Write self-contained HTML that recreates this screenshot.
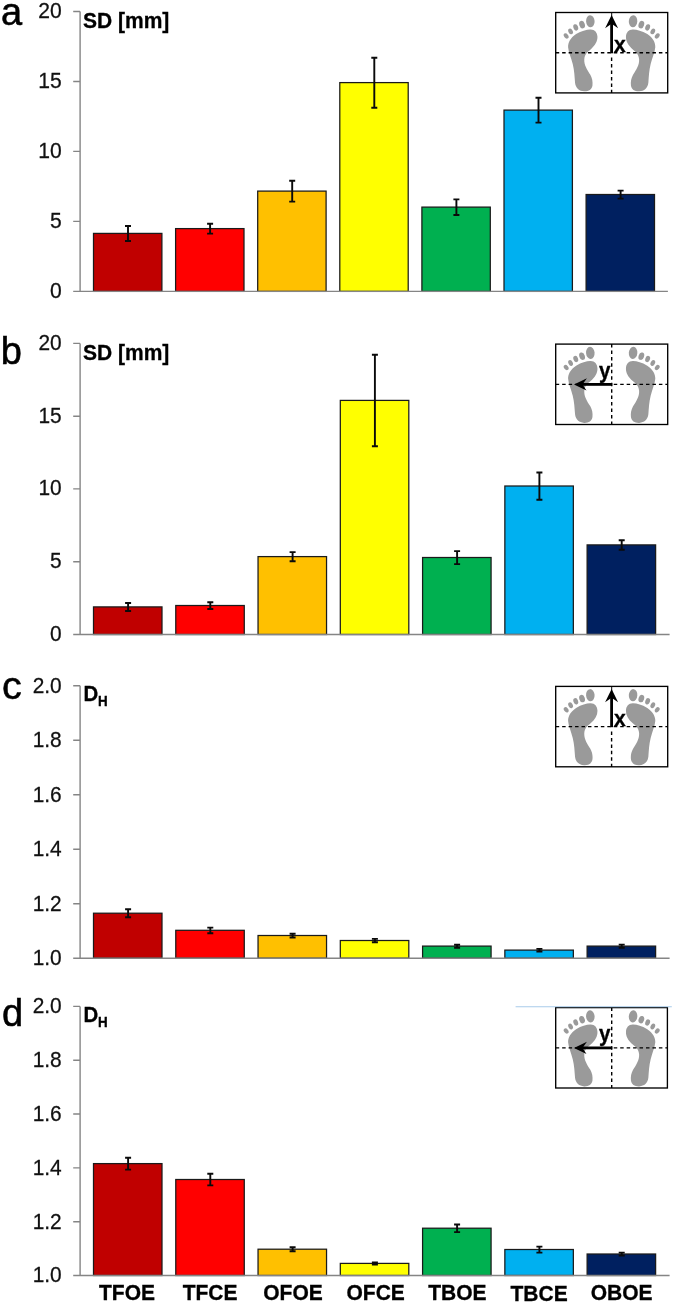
<!DOCTYPE html>
<html><head><meta charset="utf-8"><title>Figure</title>
<style>
html,body{margin:0;padding:0;background:#fff;}
body{width:675px;height:1304px;overflow:hidden;}
svg{display:block;will-change:transform;font-family:"Liberation Sans",sans-serif;}
.t{font-size:20.9px;fill:#111;text-anchor:end;stroke:#111;stroke-width:0.25px;}
.b{font-size:21px;font-weight:bold;fill:#000;stroke:#000;stroke-width:0.3px;}
.l{font-size:38px;fill:#000;stroke:#000;stroke-width:0.55px;}
.c{font-size:21px;font-weight:bold;fill:#000;text-anchor:middle;stroke:#000;stroke-width:0.3px;}
.ax{stroke:#858585;stroke-width:1.4;fill:none;}
.bar{stroke:#1a1a1a;stroke-width:1.25;}
.e{stroke:#0a0a0a;stroke-width:1.9;fill:none;}
.ft{fill:#9a9a9a;}
</style></head><body>
<svg width="675" height="1304" viewBox="0 0 675 1304">
<rect width="675" height="1304" fill="#fff"/>
<!-- panel a -->
<rect class="bar" x="93.50" y="233.4" width="68.4" height="58.0" fill="#C00000"/>
<rect class="bar" x="175.60" y="228.6" width="68.4" height="62.8" fill="#FF0000"/>
<rect class="bar" x="257.70" y="191.1" width="68.4" height="100.3" fill="#FFC000"/>
<rect class="bar" x="339.80" y="82.6" width="68.4" height="208.8" fill="#FFFF00"/>
<rect class="bar" x="421.90" y="207.1" width="68.4" height="84.3" fill="#00B050"/>
<rect class="bar" x="504.00" y="110.1" width="68.4" height="181.3" fill="#00B0F0"/>
<rect class="bar" x="586.10" y="194.5" width="68.4" height="96.9" fill="#002060"/>
<path class="ax" d="M80.1 11.5 V291.4 M73.2 291.4 H667.9 M73.2 221.4 H80.1 M73.2 151.4 H80.1 M73.2 81.5 H80.1 M73.2 11.5 H80.1"/>
<path class="e" d="M128.0 226.0 V241.0 M125.0 226.0 H131.0 M125.0 241.0 H131.0"/>
<path class="e" d="M210.1 223.8 V233.6 M207.1 223.8 H213.1 M207.1 233.6 H213.1"/>
<path class="e" d="M292.2 180.8 V201.6 M289.2 180.8 H295.2 M289.2 201.6 H295.2"/>
<path class="e" d="M374.3 57.7 V107.7 M371.3 57.7 H377.3 M371.3 107.7 H377.3"/>
<path class="e" d="M456.4 199.4 V215.0 M453.4 199.4 H459.4 M453.4 215.0 H459.4"/>
<path class="e" d="M538.5 97.8 V122.6 M535.5 97.8 H541.5 M535.5 122.6 H541.5"/>
<path class="e" d="M620.6 190.6 V198.6 M617.6 190.6 H623.6 M617.6 198.6 H623.6"/>
<text class="t" transform="translate(61.7 297.8) scale(1 1.065)" style="font-size:21.1px">0</text>
<text class="t" transform="translate(61.7 227.8) scale(1 1.065)" style="font-size:21.1px">5</text>
<text class="t" transform="translate(61.7 157.8) scale(1 1.065)" style="font-size:21.1px">10</text>
<text class="t" transform="translate(61.7 87.9) scale(1 1.065)" style="font-size:21.1px">15</text>
<text class="t" transform="translate(61.7 17.9) scale(1 1.065)" style="font-size:21.1px">20</text>
<text class="l" transform="translate(1.1 24.6) scale(1 1.020)" style="font-size:38px">a</text>
<text class="b" transform="translate(83.0 27.6) scale(1 1.075)">SD [mm]</text>
<g transform="translate(0 12.4)">
<g class="ft" transform="translate(553 -4.3) scale(0.08889)"><path d="M420 240 C470 238 498 275 500 320 C502 370 478 418 420 468 C385 495 358 520 352 575 C348 640 385 695 420 750 C442 790 448 830 444 870 C438 915 400 938 350 936 C295 934 255 900 248 840 C242 770 240 700 222 630 C205 560 175 500 170 440 C168 390 195 335 260 292 C320 255 375 242 420 240 Z"/>
<ellipse cx="420" cy="148" rx="48" ry="68" transform="rotate(-4 420 148)"/>
<ellipse cx="327" cy="186" rx="31" ry="43" transform="rotate(-18 327 186)"/>
<ellipse cx="256" cy="217" rx="26" ry="37" transform="rotate(-20 256 217)"/>
<ellipse cx="198" cy="262" rx="24" ry="34" transform="rotate(-28 198 262)"/>
<ellipse cx="148" cy="313" rx="23" ry="33" transform="rotate(-38 148 313)"/></g>
<g class="ft" transform="translate(670.4 -4.3) scale(-0.08889 0.08889)"><path d="M420 240 C470 238 498 275 500 320 C502 370 478 418 420 468 C385 495 358 520 352 575 C348 640 385 695 420 750 C442 790 448 830 444 870 C438 915 400 938 350 936 C295 934 255 900 248 840 C242 770 240 700 222 630 C205 560 175 500 170 440 C168 390 195 335 260 292 C320 255 375 242 420 240 Z"/>
<ellipse cx="420" cy="148" rx="48" ry="68" transform="rotate(-4 420 148)"/>
<ellipse cx="327" cy="186" rx="31" ry="43" transform="rotate(-18 327 186)"/>
<ellipse cx="256" cy="217" rx="26" ry="37" transform="rotate(-20 256 217)"/>
<ellipse cx="198" cy="262" rx="24" ry="34" transform="rotate(-28 198 262)"/>
<ellipse cx="148" cy="313" rx="23" ry="33" transform="rotate(-38 148 313)"/></g>
<rect x="555.7" y="0.1" width="112.0" height="80.4" fill="none" stroke="#000" stroke-width="1.35"/>
<path d="M555.7 40.3 H667.6" stroke="#000" stroke-width="1.35" stroke-dasharray="3.5 2.95" fill="none"/>
<path d="M611.6 45.2 V80.6" stroke="#000" stroke-width="1.4" stroke-dasharray="3.5 2.95" fill="none"/>
<path d="M611.7 0 V6" stroke="#000" stroke-width="1" fill="none"/>
<path d="M611.6 40.9 V10" stroke="#000" stroke-width="2.8" fill="none"/>
<path d="M611.6 2.6 L618.1 15.9 L611.6 11.4 L605.1 15.9 Z" fill="#000"/>
<text class="b" transform="translate(613.9 39.4) scale(1 1.040)" style="font-size:21.2px">x</text>
</g>
<!-- panel b -->
<rect class="bar" x="93.50" y="606.9" width="68.5" height="27.6" fill="#C00000"/>
<rect class="bar" x="175.77" y="605.5" width="68.5" height="29.0" fill="#FF0000"/>
<rect class="bar" x="258.04" y="556.6" width="68.5" height="77.9" fill="#FFC000"/>
<rect class="bar" x="340.31" y="400.4" width="68.5" height="234.1" fill="#FFFF00"/>
<rect class="bar" x="422.58" y="557.5" width="68.5" height="77.0" fill="#00B050"/>
<rect class="bar" x="504.85" y="486.0" width="68.5" height="148.5" fill="#00B0F0"/>
<rect class="bar" x="587.12" y="544.9" width="68.5" height="89.6" fill="#002060"/>
<path class="ax" d="M80.1 343.4 V634.5 M73.2 634.5 H669.6 M73.2 561.7 H80.1 M73.2 488.9 H80.1 M73.2 416.2 H80.1 M73.2 343.4 H80.1"/>
<path class="e" d="M128.1 603.0 V611.0 M125.1 603.0 H131.1 M125.1 611.0 H131.1"/>
<path class="e" d="M210.3 602.2 V609.0 M207.3 602.2 H213.3 M207.3 609.0 H213.3"/>
<path class="e" d="M292.6 552.1 V561.3 M289.6 552.1 H295.6 M289.6 561.3 H295.6"/>
<path class="e" d="M374.9 354.7 V446.3 M371.9 354.7 H377.9 M371.9 446.3 H377.9"/>
<path class="e" d="M457.1 551.1 V564.1 M454.1 551.1 H460.1 M454.1 564.1 H460.1"/>
<path class="e" d="M539.4 472.5 V499.7 M536.4 472.5 H542.4 M536.4 499.7 H542.4"/>
<path class="e" d="M621.7 540.2 V549.8 M618.7 540.2 H624.7 M618.7 549.8 H624.7"/>
<text class="t" transform="translate(61.7 640.8) scale(1 1.075)" style="font-size:20.9px">0</text>
<text class="t" transform="translate(61.7 568.0) scale(1 1.075)" style="font-size:20.9px">5</text>
<text class="t" transform="translate(61.7 495.2) scale(1 1.075)" style="font-size:20.9px">10</text>
<text class="t" transform="translate(61.7 422.5) scale(1 1.075)" style="font-size:20.9px">15</text>
<text class="t" transform="translate(61.7 349.7) scale(1 1.075)" style="font-size:20.9px">20</text>
<text class="l" transform="translate(0.7 364.0) scale(1 1.020)" style="font-size:38px">b</text>
<text class="b" transform="translate(83.0 359.5) scale(1 1.075)">SD [mm]</text>
<g transform="translate(0 344.0)">
<g class="ft" transform="translate(553 -4.3) scale(0.08889)"><path d="M420 240 C470 238 498 275 500 320 C502 370 478 418 420 468 C385 495 358 520 352 575 C348 640 385 695 420 750 C442 790 448 830 444 870 C438 915 400 938 350 936 C295 934 255 900 248 840 C242 770 240 700 222 630 C205 560 175 500 170 440 C168 390 195 335 260 292 C320 255 375 242 420 240 Z"/>
<ellipse cx="420" cy="148" rx="48" ry="68" transform="rotate(-4 420 148)"/>
<ellipse cx="327" cy="186" rx="31" ry="43" transform="rotate(-18 327 186)"/>
<ellipse cx="256" cy="217" rx="26" ry="37" transform="rotate(-20 256 217)"/>
<ellipse cx="198" cy="262" rx="24" ry="34" transform="rotate(-28 198 262)"/>
<ellipse cx="148" cy="313" rx="23" ry="33" transform="rotate(-38 148 313)"/></g>
<g class="ft" transform="translate(670.4 -4.3) scale(-0.08889 0.08889)"><path d="M420 240 C470 238 498 275 500 320 C502 370 478 418 420 468 C385 495 358 520 352 575 C348 640 385 695 420 750 C442 790 448 830 444 870 C438 915 400 938 350 936 C295 934 255 900 248 840 C242 770 240 700 222 630 C205 560 175 500 170 440 C168 390 195 335 260 292 C320 255 375 242 420 240 Z"/>
<ellipse cx="420" cy="148" rx="48" ry="68" transform="rotate(-4 420 148)"/>
<ellipse cx="327" cy="186" rx="31" ry="43" transform="rotate(-18 327 186)"/>
<ellipse cx="256" cy="217" rx="26" ry="37" transform="rotate(-20 256 217)"/>
<ellipse cx="198" cy="262" rx="24" ry="34" transform="rotate(-28 198 262)"/>
<ellipse cx="148" cy="313" rx="23" ry="33" transform="rotate(-38 148 313)"/></g>
<rect x="555.7" y="0.1" width="112.0" height="80.4" fill="none" stroke="#000" stroke-width="1.35"/>
<path d="M555.7 40.3 H667.6" stroke="#000" stroke-width="1.35" stroke-dasharray="3.5 2.95" fill="none"/>
<path d="M611.7 0 V80.6" stroke="#000" stroke-width="1.4" stroke-dasharray="3.5 2.95" fill="none"/>
<path d="M612.2 40.4 H581" stroke="#000" stroke-width="2.8" fill="none"/>
<path d="M574.0 40.4 L586.9 34.3 L582.5 40.4 L586.5 46.6 Z" fill="#000"/>
<text class="b" transform="translate(599.0 33.7) scale(1 1.040)" style="font-size:20.6px">y</text>
</g>
<!-- panel c -->
<rect class="bar" x="93.50" y="913.2" width="68.5" height="45.0" fill="#C00000"/>
<rect class="bar" x="175.77" y="930.3" width="68.5" height="27.9" fill="#FF0000"/>
<rect class="bar" x="258.04" y="935.5" width="68.5" height="22.7" fill="#FFC000"/>
<rect class="bar" x="340.31" y="940.5" width="68.5" height="17.7" fill="#FFFF00"/>
<rect class="bar" x="422.58" y="946.1" width="68.5" height="12.1" fill="#00B050"/>
<rect class="bar" x="504.85" y="950.1" width="68.5" height="8.1" fill="#00B0F0"/>
<rect class="bar" x="587.12" y="946.1" width="68.5" height="12.1" fill="#002060"/>
<path class="ax" d="M80.1 685.7 V958.2 M73.2 958.2 H669.6 M73.2 903.7 H80.1 M73.2 849.2 H80.1 M73.2 794.7 H80.1 M73.2 740.2 H80.1 M73.2 685.7 H80.1"/>
<path class="e" d="M128.1 909.3 V917.3 M125.1 909.3 H131.1 M125.1 917.3 H131.1"/>
<path class="e" d="M210.3 927.6 V933.2 M207.3 927.6 H213.3 M207.3 933.2 H213.3"/>
<path class="e" d="M292.6 933.7 V937.5 M289.6 933.7 H295.6 M289.6 937.5 H295.6"/>
<path class="e" d="M374.9 938.9 V942.3 M371.9 938.9 H377.9 M371.9 942.3 H377.9"/>
<path class="e" d="M457.1 944.7 V947.7 M454.1 944.7 H460.1 M454.1 947.7 H460.1"/>
<path class="e" d="M539.4 948.9 V951.5 M536.4 948.9 H542.4 M536.4 951.5 H542.4"/>
<path class="e" d="M621.7 944.6 V947.8 M618.7 944.6 H624.7 M618.7 947.8 H624.7"/>
<text class="t" transform="translate(61.7 965.0) scale(1 1.055)" style="font-size:20.9px">1.0</text>
<text class="t" transform="translate(61.7 910.5) scale(1 1.055)" style="font-size:20.9px">1.2</text>
<text class="t" transform="translate(61.7 856.0) scale(1 1.055)" style="font-size:20.9px">1.4</text>
<text class="t" transform="translate(61.7 801.5) scale(1 1.055)" style="font-size:20.9px">1.6</text>
<text class="t" transform="translate(61.7 747.0) scale(1 1.055)" style="font-size:20.9px">1.8</text>
<text class="t" transform="translate(61.7 692.5) scale(1 1.055)" style="font-size:20.9px">2.0</text>
<text class="l" transform="translate(2.1 699.4) scale(1 1.000)" style="font-size:39.5px">c</text>
<text class="b" transform="translate(83.4 701.1) scale(1 1.075)" style="font-size:20.4px">D<tspan style="font-size:13.4px" dy="4.7">H</tspan></text>
<g transform="translate(0 686.3)">
<g class="ft" transform="translate(553 -4.3) scale(0.08889)"><path d="M420 240 C470 238 498 275 500 320 C502 370 478 418 420 468 C385 495 358 520 352 575 C348 640 385 695 420 750 C442 790 448 830 444 870 C438 915 400 938 350 936 C295 934 255 900 248 840 C242 770 240 700 222 630 C205 560 175 500 170 440 C168 390 195 335 260 292 C320 255 375 242 420 240 Z"/>
<ellipse cx="420" cy="148" rx="48" ry="68" transform="rotate(-4 420 148)"/>
<ellipse cx="327" cy="186" rx="31" ry="43" transform="rotate(-18 327 186)"/>
<ellipse cx="256" cy="217" rx="26" ry="37" transform="rotate(-20 256 217)"/>
<ellipse cx="198" cy="262" rx="24" ry="34" transform="rotate(-28 198 262)"/>
<ellipse cx="148" cy="313" rx="23" ry="33" transform="rotate(-38 148 313)"/></g>
<g class="ft" transform="translate(670.4 -4.3) scale(-0.08889 0.08889)"><path d="M420 240 C470 238 498 275 500 320 C502 370 478 418 420 468 C385 495 358 520 352 575 C348 640 385 695 420 750 C442 790 448 830 444 870 C438 915 400 938 350 936 C295 934 255 900 248 840 C242 770 240 700 222 630 C205 560 175 500 170 440 C168 390 195 335 260 292 C320 255 375 242 420 240 Z"/>
<ellipse cx="420" cy="148" rx="48" ry="68" transform="rotate(-4 420 148)"/>
<ellipse cx="327" cy="186" rx="31" ry="43" transform="rotate(-18 327 186)"/>
<ellipse cx="256" cy="217" rx="26" ry="37" transform="rotate(-20 256 217)"/>
<ellipse cx="198" cy="262" rx="24" ry="34" transform="rotate(-28 198 262)"/>
<ellipse cx="148" cy="313" rx="23" ry="33" transform="rotate(-38 148 313)"/></g>
<rect x="555.7" y="0.1" width="112.0" height="80.4" fill="none" stroke="#000" stroke-width="1.35"/>
<path d="M555.7 40.3 H667.6" stroke="#000" stroke-width="1.35" stroke-dasharray="3.5 2.95" fill="none"/>
<path d="M611.6 45.2 V80.6" stroke="#000" stroke-width="1.4" stroke-dasharray="3.5 2.95" fill="none"/>
<path d="M611.7 0 V6" stroke="#000" stroke-width="1" fill="none"/>
<path d="M611.6 40.9 V10" stroke="#000" stroke-width="2.8" fill="none"/>
<path d="M611.6 2.6 L618.1 15.9 L611.6 11.4 L605.1 15.9 Z" fill="#000"/>
<text class="b" transform="translate(613.9 39.4) scale(1 1.040)" style="font-size:21.2px">x</text>
</g>
<!-- panel d -->
<rect class="bar" x="93.50" y="1163.6" width="68.5" height="111.9" fill="#C00000"/>
<rect class="bar" x="175.77" y="1179.5" width="68.5" height="96.0" fill="#FF0000"/>
<rect class="bar" x="258.04" y="1249.2" width="68.5" height="26.3" fill="#FFC000"/>
<rect class="bar" x="340.31" y="1263.4" width="68.5" height="12.1" fill="#FFFF00"/>
<rect class="bar" x="422.58" y="1228.2" width="68.5" height="47.3" fill="#00B050"/>
<rect class="bar" x="504.85" y="1249.5" width="68.5" height="26.0" fill="#00B0F0"/>
<rect class="bar" x="587.12" y="1254.0" width="68.5" height="21.5" fill="#002060"/>
<path class="ax" d="M80.1 1006.4 V1275.5 M73.2 1275.5 H669.6 M73.2 1221.7 H80.1 M73.2 1167.9 H80.1 M73.2 1114.0 H80.1 M73.2 1060.2 H80.1 M73.2 1006.4 H80.1"/>
<path class="e" d="M128.1 1157.8 V1169.6 M125.1 1157.8 H131.1 M125.1 1169.6 H131.1"/>
<path class="e" d="M210.3 1173.8 V1185.4 M207.3 1173.8 H213.3 M207.3 1185.4 H213.3"/>
<path class="e" d="M292.6 1247.3 V1251.3 M289.6 1247.3 H295.6 M289.6 1251.3 H295.6"/>
<path class="e" d="M374.9 1262.5 V1264.5 M371.9 1262.5 H377.9 M371.9 1264.5 H377.9"/>
<path class="e" d="M457.1 1224.5 V1232.1 M454.1 1224.5 H460.1 M454.1 1232.1 H460.1"/>
<path class="e" d="M539.4 1246.6 V1252.6 M536.4 1246.6 H542.4 M536.4 1252.6 H542.4"/>
<path class="e" d="M621.7 1252.6 V1255.6 M618.7 1252.6 H624.7 M618.7 1255.6 H624.7"/>
<text class="t" transform="translate(61.7 1282.3) scale(1 1.040)" style="font-size:20.9px">1.0</text>
<text class="t" transform="translate(61.7 1228.5) scale(1 1.040)" style="font-size:20.9px">1.2</text>
<text class="t" transform="translate(61.7 1174.7) scale(1 1.040)" style="font-size:20.9px">1.4</text>
<text class="t" transform="translate(61.7 1120.8) scale(1 1.040)" style="font-size:20.9px">1.6</text>
<text class="t" transform="translate(61.7 1067.0) scale(1 1.040)" style="font-size:20.9px">1.8</text>
<text class="t" transform="translate(61.7 1013.2) scale(1 1.040)" style="font-size:20.9px">2.0</text>
<text class="l" transform="translate(2.1 1026.4) scale(1 1.030)" style="font-size:38px">d</text>
<text class="b" transform="translate(83.4 1021.8) scale(1 1.075)" style="font-size:20.4px">D<tspan style="font-size:13.4px" dy="4.7">H</tspan></text>
<g transform="translate(0 1007.5)">
<g class="ft" transform="translate(553 -4.3) scale(0.08889)"><path d="M420 240 C470 238 498 275 500 320 C502 370 478 418 420 468 C385 495 358 520 352 575 C348 640 385 695 420 750 C442 790 448 830 444 870 C438 915 400 938 350 936 C295 934 255 900 248 840 C242 770 240 700 222 630 C205 560 175 500 170 440 C168 390 195 335 260 292 C320 255 375 242 420 240 Z"/>
<ellipse cx="420" cy="148" rx="48" ry="68" transform="rotate(-4 420 148)"/>
<ellipse cx="327" cy="186" rx="31" ry="43" transform="rotate(-18 327 186)"/>
<ellipse cx="256" cy="217" rx="26" ry="37" transform="rotate(-20 256 217)"/>
<ellipse cx="198" cy="262" rx="24" ry="34" transform="rotate(-28 198 262)"/>
<ellipse cx="148" cy="313" rx="23" ry="33" transform="rotate(-38 148 313)"/></g>
<g class="ft" transform="translate(670.4 -4.3) scale(-0.08889 0.08889)"><path d="M420 240 C470 238 498 275 500 320 C502 370 478 418 420 468 C385 495 358 520 352 575 C348 640 385 695 420 750 C442 790 448 830 444 870 C438 915 400 938 350 936 C295 934 255 900 248 840 C242 770 240 700 222 630 C205 560 175 500 170 440 C168 390 195 335 260 292 C320 255 375 242 420 240 Z"/>
<ellipse cx="420" cy="148" rx="48" ry="68" transform="rotate(-4 420 148)"/>
<ellipse cx="327" cy="186" rx="31" ry="43" transform="rotate(-18 327 186)"/>
<ellipse cx="256" cy="217" rx="26" ry="37" transform="rotate(-20 256 217)"/>
<ellipse cx="198" cy="262" rx="24" ry="34" transform="rotate(-28 198 262)"/>
<ellipse cx="148" cy="313" rx="23" ry="33" transform="rotate(-38 148 313)"/></g>
<rect x="555.7" y="0.1" width="111.7" height="80.4" fill="none" stroke="#000" stroke-width="1.35"/>
<path d="M555.7 40.3 H667.6" stroke="#000" stroke-width="1.35" stroke-dasharray="3.5 2.95" fill="none"/>
<path d="M611.7 0 V80.6" stroke="#000" stroke-width="1.4" stroke-dasharray="3.5 2.95" fill="none"/>
<path d="M612.2 40.4 H581" stroke="#000" stroke-width="2.8" fill="none"/>
<path d="M574.0 40.4 L586.9 34.3 L582.5 40.4 L586.5 46.6 Z" fill="#000"/>
<text class="b" transform="translate(599.0 33.7) scale(1 1.040)" style="font-size:20.6px">y</text>
</g>
<path d="M515.6 1006.7 H671.8" stroke="#a8cbea" stroke-width="1.1" fill="none"/>
<text class="c" transform="translate(127.0 1299.7) scale(1 1.075)">TFOE</text>
<text class="c" transform="translate(210.1 1299.7) scale(1 1.075)">TFCE</text>
<text class="c" transform="translate(293.0 1299.7) scale(1 1.075)">OFOE</text>
<text class="c" transform="translate(375.7 1299.7) scale(1 1.075)">OFCE</text>
<text class="c" transform="translate(457.4 1299.7) scale(1 1.075)">TBOE</text>
<text class="c" transform="translate(539.1 1300.7) scale(1 1.075)">TBCE</text>
<text class="c" transform="translate(621.6 1299.7) scale(1 1.075)">OBOE</text>
</svg>
</body></html>
